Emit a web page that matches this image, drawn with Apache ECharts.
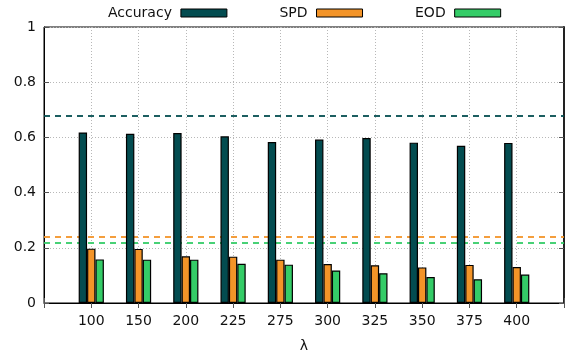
<!DOCTYPE html>
<html>
<head>
<meta charset="utf-8">
<script src="https://cdn.jsdelivr.net/npm/echarts@6/dist/echarts.min.js"></script>
<style>
  html, body { margin: 0; padding: 0; background: #fff; }
  #chart { width: 568px; height: 360px; }
</style>
</head>
<body>
<div id="chart"></div>
<script>
// λ values (empty slots pad the axis so each group sits on its own grid line)
const lambdas = ['', '100', '150', '200', '225', '275', '300', '325', '350', '375', '400', ''];

// Metric values per λ
const accuracy = [0.618, 0.613, 0.616, 0.604, 0.583, 0.592, 0.598, 0.581, 0.570, 0.580];
const spd      = [0.197, 0.196, 0.169, 0.168, 0.157, 0.141, 0.137, 0.129, 0.138, 0.130];
const eod      = [0.158, 0.157, 0.157, 0.142, 0.139, 0.118, 0.108, 0.094, 0.086, 0.103];

// Reference levels shown as dashed horizontal lines
const accuracyRef = 0.679;
const spdRef = 0.244;
const eodRef = 0.216;

const yTicks = [0, 0.2, 0.4, 0.6, 0.8, 1];

const colors = { acc: '#034c50', spd: '#f39428', eod: '#34cc67' };
const FONT = 'DejaVu Sans';

function pad(arr) { return [null].concat(arr, [null]); }

function barSeries(name, data, color, refValue) {
  return {
    name: name,
    type: 'bar',
    data: pad(data),
    barWidth: 8.4,
    barGap: '0%',
    z: 3,
    itemStyle: { color: color, borderColor: '#000', borderWidth: 1.2 },
    markLine: {
      silent: true,
      z: 1,
      symbol: 'none',
      label: { show: false },
      lineStyle: { color: color, type: [6, 5], width: 2, opacity: 0.9 },
      data: [{ yAxis: refValue }]
    }
  };
}

const chart = echarts.init(document.getElementById('chart'));
chart.setOption({
  animation: false,
  textStyle: { fontFamily: FONT },
  legend: {
    top: 1,
    left: 103,
    align: 'right',
    itemWidth: 46,
    itemHeight: 8,
    itemGap: 52,
    icon: 'rect',
    itemStyle: { borderColor: '#000', borderWidth: 1 },
    textStyle: { fontFamily: FONT, fontSize: 14, color: '#111', padding: [0, 4, 0, 0] },
    data: ['Accuracy', 'SPD', 'EOD']
  },
  grid: {
    left: 44, right: 4, top: 27, bottom: 57,
    show: true, borderColor: '#000', borderWidth: 1, backgroundColor: 'transparent'
  },
  xAxis: [{
    type: 'category',
    data: lambdas,
    boundaryGap: false,
    name: 'λ',
    nameLocation: 'middle',
    nameGap: 36,
    nameTextStyle: { fontFamily: FONT, fontSize: 14, color: '#111' },
    axisLine: { show: true, lineStyle: { color: '#000', width: 1 } },
    axisTick: { show: true, inside: true, length: 5, lineStyle: { color: '#555' } },
    axisLabel: { fontFamily: FONT, fontSize: 14, color: '#111', margin: 11, interval: 0 },
    splitLine: { show: true, lineStyle: { color: '#b8b8b8', type: [1, 2], width: 1 } }
  }, {
    type: 'category',
    data: lambdas,
    boundaryGap: false,
    position: 'top',
    axisLine: { show: false },
    axisTick: { show: true, inside: true, length: 5, lineStyle: { color: '#555' } },
    axisLabel: { show: false },
    splitLine: { show: false }
  }],
  yAxis: [{
    type: 'value',
    min: yTicks[0],
    max: yTicks[yTicks.length - 1],
    interval: 0.2,
    axisLine: { show: true, lineStyle: { color: '#000', width: 1 } },
    axisTick: { show: true, inside: true, length: 5, lineStyle: { color: '#555' } },
    axisLabel: { fontFamily: FONT, fontSize: 14, color: '#111', margin: 8 },
    splitLine: { show: true, lineStyle: { color: '#b8b8b8', type: [1, 2], width: 1 } }
  }, {
    type: 'value',
    position: 'right',
    min: yTicks[0],
    max: yTicks[yTicks.length - 1],
    interval: 0.2,
    axisLine: { show: true, lineStyle: { color: '#222', width: 2 } },
    axisTick: { show: true, inside: true, length: 5, lineStyle: { color: '#555' } },
    axisLabel: { show: false },
    splitLine: { show: false }
  }],
  series: [
    barSeries('Accuracy', accuracy, colors.acc, accuracyRef),
    barSeries('SPD', spd, colors.spd, spdRef),
    barSeries('EOD', eod, colors.eod, eodRef)
  ]
});
</script>
</body>
</html>
